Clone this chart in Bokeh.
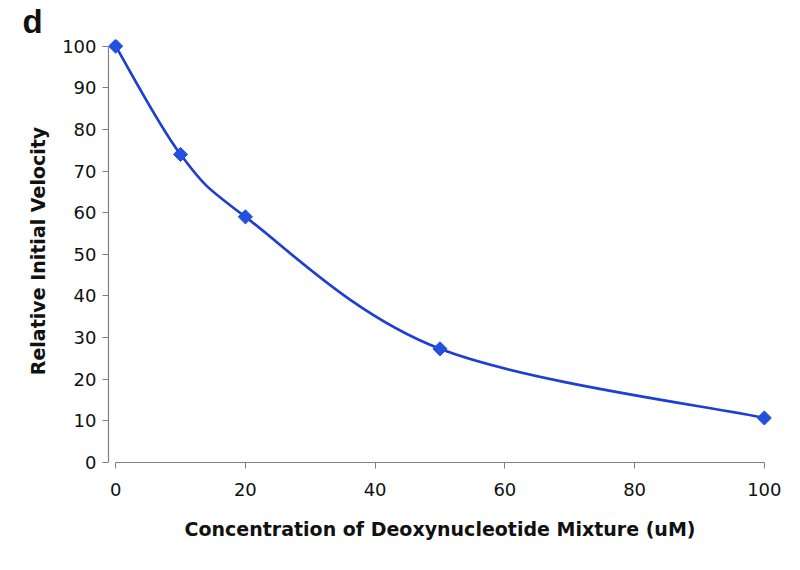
from bokeh.plotting import figure
from bokeh.models import Range1d, FixedTicker
from bokeh.embed import file_html
from bokeh.resources import INLINE

# data
conc = [0, 10, 20, 50, 100]
velocity = [100, 74, 59, 27.3, 10.7]
x_ticks = [0, 20, 40, 60, 80, 100]
y_ticks = [0, 10, 20, 30, 40, 50, 60, 70, 80, 90, 100]
panel_letter = "d"

FONT = "DejaVu Sans"
LINE = "#1d3fd2"

p = figure(width=784, height=554, output_backend="svg", toolbar_location=None,
           x_range=Range1d(-1.1, 101.1), y_range=Range1d(0, 101.6),
           min_border_left=108, min_border_right=13, min_border_top=0, min_border_bottom=92)
p.outline_line_color = None
p.grid.visible = False
p.background_fill_color = "white"

p.title.text = panel_letter
p.title.align = "left"
p.title.offset = -86
p.title.standoff = 0
p.title.text_font = "Liberation Sans"
p.title.text_font_style = "bold"
p.title.text_font_size = "33px"
p.title.text_color = "#111111"

# smooth (Excel-style) bezier segments built from the data
n = len(conc)
x0, y0, x1, y1, cx0, cy0, cx1, cy1 = [], [], [], [], [], [], [], []
for i in range(n - 1):
    pm = max(i - 1, 0)
    pp = min(i + 2, n - 1)
    x0.append(conc[i]); y0.append(velocity[i])
    x1.append(conc[i + 1]); y1.append(velocity[i + 1])
    cx0.append(conc[i] + (conc[i + 1] - conc[pm]) / 6)
    cy0.append(velocity[i] + (velocity[i + 1] - velocity[pm]) / 6)
    cx1.append(conc[i + 1] - (conc[pp] - conc[i]) / 6)
    cy1.append(velocity[i + 1] - (velocity[pp] - velocity[i]) / 6)
p.bezier(x0=x0, y0=y0, x1=x1, y1=y1, cx0=cx0, cy0=cy0, cx1=cx1, cy1=cy1,
         line_color=LINE, line_width=2.7)
p.scatter(conc, velocity, marker="square", angle=45, angle_units="deg", size=10,
          fill_color="#2350dc", line_color="#2350dc")

for ax in (p.xaxis[0], p.yaxis[0]):
    ax.bounds = (0, 100)
    ax.axis_line_color = "#808080"
    ax.axis_line_width = 1.2
    ax.major_tick_line_color = "#808080"
    ax.major_tick_in = 0
    ax.major_tick_out = 6
    ax.minor_tick_line_color = None
    ax.major_label_text_font = FONT
    ax.major_label_text_font_size = "18px"
    ax.major_label_text_color = "#111111"
    ax.axis_label_text_font = FONT
    ax.axis_label_text_font_style = "bold"
    ax.axis_label_text_font_size = "19px"
    ax.axis_label_text_color = "#111111"

p.xaxis.ticker = FixedTicker(ticks=x_ticks)
p.yaxis.ticker = FixedTicker(ticks=y_ticks)
p.xaxis.axis_label = "Concentration of Deoxynucleotide Mixture (uM)"
p.yaxis.axis_label = "Relative Initial Velocity"
p.xaxis.major_label_standoff = 14
p.yaxis.major_label_standoff = 6
p.xaxis.axis_label_standoff = 19
p.yaxis.axis_label_standoff = 10

open("out.html", "w").write(file_html(p, INLINE))
